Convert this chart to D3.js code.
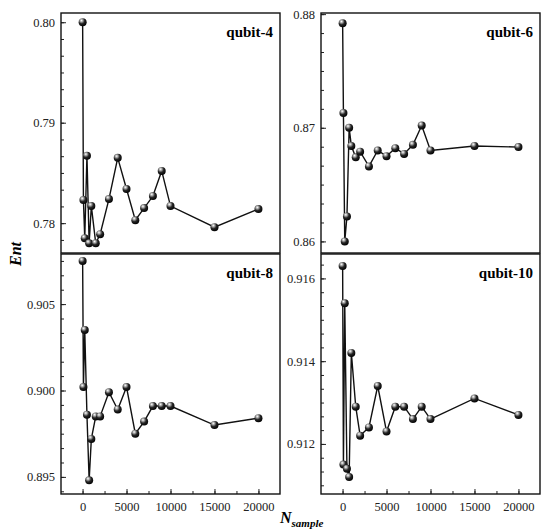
<!DOCTYPE html>
<html>
<head>
<meta charset="utf-8">
<script src="https://cdn.jsdelivr.net/npm/d3@7"></script>
<style>
  body { margin: 0; background: #fff; }
  svg { display: block; font-family: "Liberation Serif", "DejaVu Serif", serif; }
  .tick text { fill: #222; }
</style>
</head>
<body>
<svg width="541" height="531"></svg>
<script>
// sample sizes (shared x values)
var nSample = [10, 100, 250, 500, 750, 1000, 1500, 2000, 3000, 4000, 5000, 6000, 7000, 8000, 9000, 10000, 15000, 20000];

// entanglement values
var q4  = [0.8000, 0.7823, 0.7785, 0.7867, 0.7780, 0.7817, 0.7780, 0.7789, 0.7824, 0.7865, 0.7834, 0.7803, 0.7815, 0.7827, 0.7852, 0.7817, 0.7796, 0.7814];
var q6  = [0.8792, 0.8713, 0.8600, 0.8622, 0.8700, 0.8684, 0.8674, 0.8679, 0.8666, 0.8680, 0.8675, 0.8682, 0.8677, 0.8685, 0.8702, 0.8680, 0.8684, 0.8683];
var q8  = [0.9075, 0.9002, 0.9035, 0.8986, 0.8948, 0.8972, 0.8985, 0.8985, 0.8999, 0.8989, 0.9002, 0.8975, 0.8982, 0.8991, 0.8991, 0.8991, 0.8980, 0.8984];
var q10 = [0.9163, 0.9115, 0.9154, 0.9114, 0.9112, 0.9142, 0.9129, 0.9122, 0.9124, 0.9134, 0.9123, 0.9129, 0.9129, 0.9126, 0.9129, 0.9126, 0.9131, 0.9127];

var panelNames = ["qubit-4", "qubit-6", "qubit-8", "qubit-10"];
var xTicks = [0, 5000, 10000, 15000, 20000];

var serif = '"Liberation Serif", "DejaVu Serif", serif';
var svg = d3.select("svg");

// sphere-looking marker
var grad = svg.append("defs").append("radialGradient")
  .attr("id", "ball").attr("cx", "38%").attr("cy", "32%").attr("r", "70%")
  .attr("fx", "35%").attr("fy", "28%");
grad.append("stop").attr("offset", "0%").attr("stop-color", "#ffffff");
grad.append("stop").attr("offset", "22%").attr("stop-color", "#b0b0b0");
grad.append("stop").attr("offset", "55%").attr("stop-color", "#262626");
grad.append("stop").attr("offset", "100%").attr("stop-color", "#000000");

var panels = [
  { name: panelNames[0], vals: q4,  left: 61,  top: 13,  ydom: [0.77703, 0.80092], yticks: [0.78, 0.79, 0.80],   step: 0.01,  fmt: ".2f", xlab: false },
  { name: panelNames[1], vals: q6,  left: 321, top: 13,  ydom: [0.85898, 0.8801],  yticks: [0.86, 0.87, 0.88],   step: 0.01,  fmt: ".2f", xlab: false },
  { name: panelNames[2], vals: q8,  left: 61,  top: 254, ydom: [0.89401, 0.9079],  yticks: [0.895, 0.900, 0.905], step: 0.005, fmt: ".3f", xlab: true },
  { name: panelNames[3], vals: q10, left: 321, top: 254, ydom: [0.91079, 0.91659], yticks: [0.912, 0.914, 0.916], step: 0.002, fmt: ".3f", xlab: true }
];

var pw = 219, ph = 240;

function styleAxis(a) {
  a.select(".domain").remove();
  a.attr("font-family", serif).attr("font-size", 12.5);
  a.selectAll("line").attr("stroke", "#222");
}

panels.forEach(function(p) {
  var g = svg.append("g").attr("transform", "translate(" + p.left + "," + p.top + ")");

  var x = d3.scaleLinear().domain([-2450, 22450]).range([0, pw]);
  var y = d3.scaleLinear().domain(p.ydom).range([ph, 0]);

  // minor y ticks (5 between majors)
  var minor = [];
  for (var v = p.yticks[0] - p.step; v <= p.ydom[1]; v += p.step / 6) {
    if (v >= p.ydom[0]) minor.push(v);
  }
  g.append("g")
    .call(d3.axisLeft(y).tickValues(minor).tickSize(-3).tickFormat(""))
    .call(styleAxis);

  g.append("g")
    .call(d3.axisLeft(y).tickValues(p.yticks).tickSize(-5).tickPadding(6).tickFormat(d3.format(p.fmt)))
    .call(styleAxis);

  if (p.xlab) {
    var xminor = d3.range(-2500, 22501, 2500).filter(function(d) { return d > x.domain()[0] && d < x.domain()[1]; });
    g.append("g").attr("transform", "translate(0," + ph + ")")
      .call(d3.axisBottom(x).tickValues(xminor).tickSize(-3).tickFormat(""))
      .call(styleAxis);
    g.append("g").attr("transform", "translate(0," + ph + ")")
      .call(d3.axisBottom(x).tickValues(xTicks).tickSize(-5).tickPadding(8).tickFormat(d3.format("d")))
      .call(styleAxis);
  }

  // frame
  g.append("rect").attr("width", pw).attr("height", ph)
    .attr("fill", "none").attr("stroke", "#111").attr("stroke-width", 1.4);

  var pts = nSample.map(function(n, i) { return [n, p.vals[i]]; });

  g.append("path").datum(pts)
    .attr("fill", "none").attr("stroke", "#111").attr("stroke-width", 1.4)
    .attr("d", d3.line().x(function(d) { return x(d[0]); }).y(function(d) { return y(d[1]); }));

  g.selectAll(".pt").data(pts).enter().append("circle")
    .attr("class", "pt")
    .attr("cx", function(d) { return x(d[0]); })
    .attr("cy", function(d) { return y(d[1]); })
    .attr("r", 4)
    .attr("fill", "url(#ball)");

  g.append("text")
    .attr("x", pw - 7).attr("y", 24)
    .attr("text-anchor", "end")
    .style("font-size", "15px").style("font-weight", "bold")
    .text(p.name);
});

// axis titles
svg.append("text")
  .attr("transform", "translate(21,254) rotate(-90)")
  .attr("text-anchor", "middle")
  .style("font-size", "16px").style("font-weight", "bold").style("font-style", "italic")
  .text("Ent");

var xt = svg.append("text")
  .attr("x", 280).attr("y", 523)
  .style("font-size", "16px").style("font-weight", "bold").style("font-style", "italic");
xt.append("tspan").text("N");
xt.append("tspan").attr("dy", 4).style("font-size", "11px").text("sample");
</script>
</body>
</html>
